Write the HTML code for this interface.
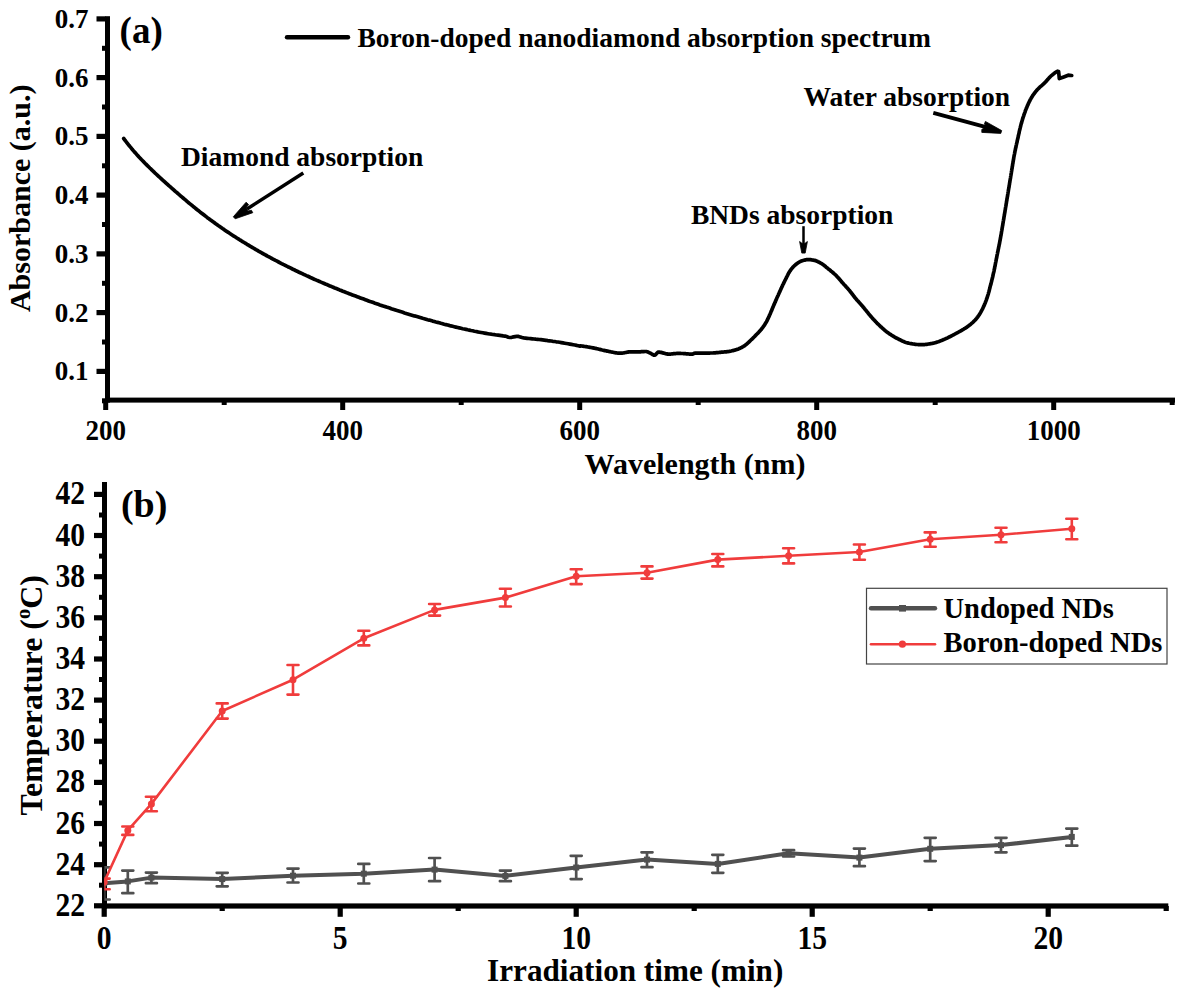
<!DOCTYPE html>
<html><head><meta charset="utf-8"><title>Figure</title>
<style>html,body{margin:0;padding:0;background:#fff;width:1183px;height:994px;overflow:hidden}svg{display:block}</style>
</head><body>
<svg width="1183" height="994" viewBox="0 0 1183 994">
<rect width="100%" height="100%" fill="#fff"/>
<g fill="#000">
<rect x="105" y="16.2" width="5" height="386.4"/>
<rect x="105" y="397.6" width="1070" height="5"/>
<rect x="96.5" y="368.8" width="9" height="5.2"/>
<rect x="96.5" y="310.0" width="9" height="5.2"/>
<rect x="96.5" y="251.3" width="9" height="5.2"/>
<rect x="96.5" y="192.5" width="9" height="5.2"/>
<rect x="96.5" y="133.8" width="9" height="5.2"/>
<rect x="96.5" y="75.0" width="9" height="5.2"/>
<rect x="96.5" y="16.3" width="9" height="5.2"/>
<rect x="102" y="398.3" width="4" height="5"/>
<rect x="102" y="339.5" width="4" height="5"/>
<rect x="102" y="280.8" width="4" height="5"/>
<rect x="102" y="222.0" width="4" height="5"/>
<rect x="102" y="163.3" width="4" height="5"/>
<rect x="102" y="104.5" width="4" height="5"/>
<rect x="102" y="45.8" width="4" height="5"/>
<rect x="103.2" y="400" width="5" height="10"/>
<rect x="340.2" y="400" width="5" height="10"/>
<rect x="577.2" y="400" width="5" height="10"/>
<rect x="814.2" y="400" width="5" height="10"/>
<rect x="1051.2" y="400" width="5" height="10"/>
<rect x="221.7" y="400" width="5" height="5"/>
<rect x="458.7" y="400" width="5" height="5"/>
<rect x="695.7" y="400" width="5" height="5"/>
<rect x="932.7" y="400" width="5" height="5"/>
<rect x="1169.7" y="400" width="5" height="5"/>
</g>
<polyline points="123.7,138.5 124.7,139.8 125.7,141.2 126.8,142.6 127.8,143.9 128.9,145.3 130.0,146.6 131.1,147.9 132.2,149.3 133.3,150.6 134.4,151.9 135.6,153.1 136.7,154.4 137.9,155.7 139.0,157.0 140.2,158.2 141.4,159.5 142.6,160.7 143.8,161.9 145.0,163.2 146.2,164.4 147.4,165.6 148.6,166.8 149.8,168.0 151.1,169.2 152.3,170.4 153.6,171.6 154.8,172.8 156.1,174.0 157.3,175.1 158.6,176.3 159.9,177.5 161.1,178.6 162.4,179.8 163.7,181.0 165.0,182.1 166.3,183.3 167.5,184.4 168.8,185.6 170.1,186.7 171.4,187.8 172.7,189.0 174.0,190.1 175.3,191.3 176.6,192.4 177.9,193.5 179.2,194.7 180.5,195.8 181.8,196.9 183.1,198.0 184.4,199.1 185.7,200.2 187.0,201.3 188.3,202.5 189.7,203.6 191.0,204.6 192.3,205.7 193.6,206.8 195.0,207.9 196.3,209.0 197.6,210.1 199.0,211.1 200.3,212.2 201.7,213.2 203.1,214.3 204.4,215.3 205.8,216.4 207.1,217.4 208.5,218.4 209.9,219.5 211.3,220.5 212.7,221.5 214.1,222.5 215.4,223.5 216.8,224.5 218.2,225.5 219.7,226.5 221.1,227.5 222.5,228.5 223.9,229.4 225.3,230.4 226.7,231.4 228.2,232.3 229.6,233.3 231.0,234.2 232.5,235.2 233.9,236.1 235.4,237.0 236.8,238.0 238.3,238.9 239.7,239.8 241.2,240.7 242.6,241.6 244.1,242.5 245.6,243.4 247.0,244.3 248.5,245.2 250.0,246.1 251.5,247.0 253.0,247.8 254.4,248.7 255.9,249.6 257.4,250.4 258.9,251.3 260.4,252.1 261.9,253.0 263.4,253.8 264.9,254.7 266.4,255.5 267.9,256.3 269.5,257.1 271.0,258.0 272.5,258.8 274.0,259.6 275.5,260.4 277.1,261.2 278.6,262.0 280.1,262.8 281.6,263.6 283.2,264.4 284.7,265.1 286.2,265.9 287.8,266.7 289.3,267.4 290.9,268.2 292.4,269.0 294.0,269.7 295.5,270.5 297.1,271.2 298.6,272.0 300.2,272.7 301.7,273.4 303.3,274.2 304.9,274.9 306.4,275.6 308.0,276.3 309.5,277.0 311.1,277.8 312.7,278.5 314.2,279.2 315.8,279.9 317.4,280.6 319.0,281.2 320.5,281.9 322.1,282.6 323.7,283.3 325.3,284.0 326.9,284.6 328.4,285.3 330.0,286.0 331.6,286.6 333.2,287.3 334.8,288.0 336.4,288.6 338.0,289.2 339.6,289.9 341.2,290.5 342.8,291.2 344.4,291.8 346.0,292.4 347.6,293.1 349.2,293.7 350.8,294.3 352.4,294.9 354.0,295.5 355.6,296.1 357.2,296.7 358.8,297.3 360.4,297.9 362.1,298.5 363.7,299.1 365.3,299.7 366.9,300.3 368.5,300.9 370.1,301.5 371.8,302.0 373.4,302.6 375.0,303.2 376.6,303.7 378.3,304.3 379.9,304.9 381.5,305.4 383.2,306.0 384.8,306.5 386.4,307.1 388.1,307.6 389.7,308.1 391.3,308.7 393.0,309.2 394.6,309.7 396.3,310.3 397.9,310.8 399.5,311.3 401.2,311.8 402.8,312.3 404.5,312.9 406.1,313.4 407.8,313.9 409.4,314.4 411.1,314.9 412.7,315.4 414.4,315.9 416.0,316.3 417.7,316.8 419.3,317.3 421.0,317.8 422.6,318.3 424.3,318.7 426.0,319.2 427.6,319.7 429.3,320.1 430.9,320.6 432.6,321.1 434.3,321.5 435.9,322.0 437.6,322.4 439.2,322.8 440.9,323.3 442.6,323.7 444.2,324.2 445.9,324.6 447.6,325.0 449.2,325.4 450.9,325.9 452.6,326.3 454.3,326.7 455.9,327.1 457.6,327.5 459.3,327.9 461.0,328.3 462.6,328.7 464.3,329.0 466.0,329.4 467.7,329.8 469.3,330.1 471.0,330.5 472.7,330.8 474.4,331.2 476.1,331.5 477.8,331.9 479.5,332.2 481.1,332.5 482.8,332.8 484.5,333.1 486.2,333.4 487.9,333.7 489.6,334.0 491.3,334.2 493.0,334.5 494.7,334.7 496.4,335.0 498.1,335.2 499.8,335.4 501.5,335.6 503.2,335.9 504.9,336.1 506.6,336.6 508.3,337.2 510.1,337.5 511.8,337.3 513.5,336.9 515.2,336.6 516.9,336.3 518.6,336.4 520.3,336.9 522.0,337.5 523.8,337.9 525.5,338.1 527.2,338.3 528.9,338.5 530.6,338.6 532.3,338.8 534.0,339.0 535.8,339.2 537.5,339.3 539.2,339.5 540.9,339.7 542.6,339.9 544.3,340.1 546.0,340.3 547.7,340.6 549.4,340.8 551.1,341.0 552.8,341.3 554.5,341.5 556.2,341.8 557.9,342.0 559.6,342.3 561.3,342.6 563.0,342.9 564.7,343.2 566.4,343.5 568.1,343.8 569.8,344.1 571.5,344.4 573.2,344.7 574.9,345.0 576.6,345.4 578.3,345.7 580.0,346.1 580.8,345.9 581.7,346.0 582.5,346.1 583.3,346.2 584.2,346.4 585.0,346.5 585.8,346.6 586.7,346.7 587.5,346.9 588.3,347.0 589.1,347.2 590.0,347.3 590.8,347.5 591.6,347.6 592.4,347.8 593.3,347.9 594.1,348.1 594.9,348.3 595.7,348.4 596.5,348.6 597.4,348.8 598.2,349.0 599.0,349.2 599.8,349.4 600.6,349.6 601.4,349.8 602.2,350.0 603.1,350.2 603.9,350.4 604.7,350.6 605.5,350.7 606.4,350.9 607.2,351.1 608.0,351.2 608.8,351.4 609.7,351.6 610.5,351.8 611.3,352.0 612.1,352.1 613.0,352.3 613.8,352.5 614.6,352.6 615.5,352.8 616.3,352.9 617.1,353.0 617.9,353.1 618.8,353.1 619.6,353.2 620.4,353.2 621.3,353.2 622.1,353.1 622.9,353.0 623.7,352.9 624.6,352.7 625.4,352.5 626.2,352.4 627.1,352.2 627.9,352.1 628.7,351.9 629.6,351.8 630.4,351.8 631.2,351.8 632.1,351.8 632.9,351.8 633.8,351.8 634.6,351.9 635.4,351.9 636.3,351.9 637.1,351.9 638.0,351.9 638.8,351.9 639.6,351.9 640.5,351.8 641.3,351.7 642.2,351.7 643.0,351.6 643.9,351.6 644.7,351.5 645.5,351.5 646.3,351.5 647.1,351.7 647.9,352.0 648.7,352.4 649.5,352.8 650.2,353.1 651.0,353.5 651.8,354.0 652.5,354.5 653.3,354.9 654.0,355.2 654.7,355.2 655.4,354.8 656.1,354.1 656.7,353.4 657.4,352.7 658.0,352.2 658.8,352.1 659.5,352.2 660.3,352.3 661.1,352.4 661.9,352.6 662.7,352.9 663.6,353.1 664.4,353.3 665.3,353.6 666.1,353.8 667.0,353.9 667.8,354.1 668.7,354.1 669.5,354.1 670.3,354.1 671.2,354.0 672.0,353.9 672.8,353.8 673.7,353.7 674.5,353.7 675.4,353.6 676.2,353.5 677.0,353.4 677.9,353.4 678.7,353.4 679.6,353.4 680.4,353.4 681.2,353.5 682.1,353.5 682.9,353.5 683.7,353.6 684.6,353.7 685.4,353.7 686.3,353.8 687.1,353.8 687.9,353.9 688.8,354.0 689.6,354.1 690.5,354.1 691.3,354.2 692.1,354.2 692.9,354.0 693.7,353.6 694.5,353.3 695.3,353.1 696.1,353.1 696.9,353.1 697.8,353.1 698.6,353.1 699.5,353.1 700.3,353.1 701.2,353.1 702.0,353.1 702.8,353.1 703.7,353.1 704.5,353.1 705.4,353.1 706.2,353.1 707.0,353.1 707.9,353.1 708.7,353.1 709.6,353.1 710.4,353.0 711.2,353.0 712.1,353.0 712.9,353.0 713.8,352.9 714.6,352.9 715.4,352.8 716.3,352.7 717.1,352.7 717.9,352.6 718.8,352.5 719.6,352.4 720.4,352.3 721.3,352.2 722.1,352.2 723.0,352.1 723.8,352.0 724.6,351.9 725.5,351.9 726.3,351.8 727.1,351.7 728.0,351.6 728.8,351.5 729.6,351.3 730.4,351.2 731.3,351.0 732.1,350.8 732.9,350.6 733.7,350.4 734.5,350.2 735.3,349.9 736.1,349.7 736.9,349.4 737.7,349.2 738.5,348.9 739.3,348.5 740.1,348.2 740.8,347.8 741.6,347.5 742.3,347.0 743.1,346.6 743.8,346.2 744.5,345.8 745.1,345.3 745.8,344.8 746.5,344.3 747.1,343.7 747.7,343.1 748.3,342.6 749.0,342.0 749.6,341.4 750.2,340.8 750.8,340.2 751.4,339.7 752.0,339.1 752.6,338.5 753.2,337.9 753.8,337.3 754.4,336.7 755.0,336.1 755.5,335.5 756.1,334.9 756.7,334.3 757.3,333.7 757.9,333.1 758.5,332.5 759.0,331.9 759.6,331.2 760.2,330.6 760.7,330.0 761.3,329.4 761.8,328.7 762.3,328.0 762.8,327.4 763.3,326.7 763.8,326.0 764.3,325.3 764.7,324.6 765.2,323.9 765.6,323.2 766.0,322.5 766.5,321.7 766.9,321.0 767.2,320.2 767.6,319.5 768.0,318.7 768.3,318.0 768.7,317.2 769.0,316.5 769.4,315.7 769.7,314.9 770.1,314.2 770.4,313.4 770.7,312.6 771.0,311.8 771.3,311.1 771.7,310.3 772.0,309.5 772.3,308.7 772.6,308.0 773.0,307.2 773.3,306.4 773.6,305.6 773.9,304.9 774.3,304.1 774.6,303.3 774.9,302.6 775.3,301.8 775.6,301.0 775.9,300.2 776.3,299.5 776.6,298.7 776.9,297.9 777.3,297.2 777.6,296.4 778.0,295.6 778.3,294.9 778.6,294.1 779.0,293.3 779.3,292.6 779.7,291.8 780.0,291.0 780.4,290.3 780.7,289.5 781.1,288.7 781.4,288.0 781.8,287.2 782.1,286.5 782.5,285.7 782.8,284.9 783.2,284.2 783.6,283.4 783.9,282.7 784.3,281.9 784.7,281.2 785.0,280.4 785.4,279.7 785.8,278.9 786.2,278.2 786.5,277.4 786.9,276.6 787.3,275.9 787.7,275.1 788.0,274.4 788.4,273.6 788.8,272.9 789.3,272.2 789.7,271.4 790.2,270.8 790.6,270.1 791.1,269.4 791.6,268.8 792.2,268.1 792.7,267.5 793.3,266.8 793.9,266.2 794.5,265.6 795.1,265.1 795.8,264.5 796.4,264.0 797.1,263.5 797.8,263.0 798.5,262.5 799.2,262.1 800.0,261.7 800.7,261.3 801.5,261.0 802.3,260.7 803.1,260.5 803.9,260.3 804.7,260.1 805.5,259.9 806.4,259.7 807.2,259.6 808.0,259.6 808.9,259.6 809.7,259.7 810.6,259.7 811.4,259.8 812.2,260.0 813.1,260.1 813.9,260.3 814.7,260.4 815.5,260.6 816.3,260.9 817.1,261.2 817.8,261.6 818.6,262.0 819.4,262.4 820.1,262.8 820.8,263.2 821.6,263.6 822.2,264.0 822.9,264.5 823.6,265.0 824.3,265.5 824.9,266.1 825.6,266.6 826.2,267.2 826.9,267.7 827.5,268.2 828.2,268.8 828.8,269.3 829.5,269.8 830.2,270.3 830.8,270.9 831.5,271.4 832.1,271.9 832.8,272.5 833.4,273.0 834.0,273.6 834.6,274.1 835.3,274.7 835.9,275.3 836.5,275.9 837.0,276.5 837.6,277.1 838.2,277.7 838.7,278.3 839.3,279.0 839.8,279.6 840.4,280.2 840.9,280.9 841.4,281.5 842.0,282.2 842.5,282.8 843.1,283.4 843.7,284.1 844.2,284.7 844.8,285.3 845.4,285.9 845.9,286.5 846.5,287.2 847.1,287.8 847.6,288.4 848.2,289.0 848.7,289.7 849.3,290.3 849.8,290.9 850.3,291.6 850.8,292.3 851.4,292.9 851.9,293.6 852.4,294.3 852.9,294.9 853.4,295.6 853.9,296.3 854.4,296.9 854.9,297.6 855.5,298.2 856.0,298.9 856.5,299.5 857.1,300.2 857.7,300.8 858.2,301.4 858.8,302.0 859.3,302.6 859.9,303.3 860.5,303.9 861.0,304.5 861.6,305.1 862.1,305.8 862.7,306.4 863.2,307.1 863.8,307.7 864.3,308.4 864.8,309.0 865.3,309.7 865.9,310.3 866.4,311.0 866.9,311.6 867.5,312.3 868.0,312.9 868.5,313.6 869.0,314.2 869.6,314.9 870.1,315.5 870.7,316.2 871.2,316.8 871.7,317.4 872.3,318.1 872.9,318.7 873.4,319.3 874.0,319.9 874.6,320.5 875.2,321.1 875.7,321.7 876.3,322.3 876.9,323.0 877.5,323.6 878.1,324.2 878.7,324.7 879.3,325.3 879.9,325.9 880.5,326.5 881.1,327.1 881.8,327.6 882.4,328.2 883.0,328.8 883.7,329.3 884.3,329.8 884.9,330.4 885.6,330.9 886.2,331.4 886.9,331.9 887.6,332.4 888.3,332.9 888.9,333.4 889.6,333.9 890.3,334.3 891.0,334.8 891.7,335.3 892.5,335.7 893.2,336.2 893.9,336.6 894.6,337.1 895.3,337.5 896.1,337.9 896.8,338.3 897.6,338.6 898.3,339.0 899.1,339.4 899.8,339.8 900.6,340.1 901.3,340.5 902.1,340.9 902.9,341.2 903.7,341.6 904.5,341.9 905.2,342.2 906.0,342.5 906.8,342.7 907.6,342.9 908.4,343.1 909.2,343.3 910.1,343.5 910.9,343.6 911.7,343.7 912.5,343.9 913.4,344.0 914.2,344.1 915.0,344.3 915.9,344.4 916.7,344.5 917.6,344.5 918.4,344.6 919.2,344.7 920.1,344.7 920.9,344.7 921.7,344.7 922.6,344.7 923.4,344.6 924.3,344.6 925.1,344.5 925.9,344.4 926.8,344.3 927.6,344.2 928.5,344.0 929.3,343.9 930.1,343.8 930.9,343.6 931.8,343.5 932.6,343.3 933.4,343.2 934.2,343.0 935.0,342.8 935.8,342.6 936.6,342.3 937.4,342.0 938.2,341.8 939.0,341.5 939.8,341.2 940.6,340.8 941.4,340.5 942.1,340.2 942.9,339.9 943.7,339.5 944.5,339.2 945.2,338.9 946.0,338.5 946.8,338.2 947.5,337.9 948.3,337.5 949.0,337.1 949.8,336.8 950.5,336.4 951.3,336.0 952.0,335.6 952.8,335.2 953.5,334.8 954.3,334.4 955.0,334.0 955.7,333.6 956.5,333.2 957.2,332.8 958.0,332.4 958.7,332.0 959.4,331.6 960.2,331.2 960.9,330.8 961.6,330.4 962.4,329.9 963.1,329.5 963.8,329.1 964.5,328.6 965.3,328.2 966.0,327.7 966.7,327.3 967.3,326.8 968.0,326.3 968.7,325.8 969.3,325.3 970.0,324.8 970.6,324.3 971.3,323.7 971.9,323.2 972.6,322.6 973.2,322.0 973.8,321.4 974.4,320.8 975.0,320.2 975.6,319.6 976.1,319.0 976.6,318.4 977.1,317.7 977.6,317.1 978.1,316.4 978.6,315.7 979.1,315.0 979.5,314.3 980.0,313.5 980.4,312.8 980.8,312.1 981.2,311.3 981.6,310.6 982.0,309.8 982.4,309.1 982.8,308.3 983.1,307.6 983.5,306.8 983.8,306.1 984.2,305.3 984.5,304.5 984.8,303.8 985.2,303.0 985.5,302.2 985.8,301.4 986.1,300.6 986.4,299.8 986.6,299.0 986.9,298.2 987.2,297.5 987.4,296.7 987.7,295.9 987.9,295.1 988.2,294.3 988.4,293.5 988.6,292.6 988.9,291.8 989.1,291.0 989.3,290.2 989.5,289.4 989.7,288.6 989.9,287.8 990.1,286.9 990.3,286.1 990.5,285.3 990.8,284.5 991.0,283.7 991.2,282.9 991.4,282.1 991.6,281.3 991.8,280.4 992.0,279.6 992.2,278.8 992.4,278.0 992.6,277.2 992.8,276.4 993.0,275.5 993.1,274.7 993.3,273.9 993.5,273.1 993.7,272.3 993.9,271.5 994.1,270.6 994.2,269.8 994.4,269.0 994.6,268.2 994.7,267.3 994.9,266.5 995.1,265.7 995.2,264.9 995.4,264.1 995.5,263.2 995.7,262.4 995.9,261.6 996.0,260.8 996.2,259.9 996.3,259.1 996.5,258.3 996.7,257.5 996.8,256.6 997.0,255.8 997.1,255.0 997.3,254.2 997.5,253.3 997.6,252.5 997.8,251.7 998.0,250.9 998.1,250.1 998.3,249.2 998.5,248.4 998.6,247.6 998.8,246.8 999.0,245.9 999.1,245.1 999.3,244.3 999.5,243.5 999.6,242.6 999.8,241.8 999.9,241.0 1000.1,240.2 1000.2,239.4 1000.4,238.5 1000.5,237.7 1000.7,236.9 1000.8,236.0 1001.0,235.2 1001.1,234.4 1001.3,233.6 1001.4,232.7 1001.5,231.9 1001.7,231.1 1001.8,230.3 1002.0,229.4 1002.1,228.6 1002.2,227.8 1002.4,226.9 1002.5,226.1 1002.7,225.3 1002.8,224.5 1002.9,223.6 1003.1,222.8 1003.2,222.0 1003.3,221.2 1003.5,220.3 1003.6,219.5 1003.8,218.7 1003.9,217.8 1004.0,217.0 1004.2,216.2 1004.3,215.4 1004.4,214.5 1004.6,213.7 1004.7,212.9 1004.9,212.0 1005.0,211.2 1005.1,210.4 1005.3,209.6 1005.4,208.7 1005.5,207.9 1005.7,207.1 1005.8,206.3 1006.0,205.4 1006.1,204.6 1006.2,203.8 1006.4,202.9 1006.5,202.1 1006.6,201.3 1006.8,200.5 1006.9,199.6 1007.0,198.8 1007.2,198.0 1007.3,197.1 1007.5,196.3 1007.6,195.5 1007.7,194.7 1007.9,193.8 1008.0,193.0 1008.1,192.2 1008.3,191.3 1008.4,190.5 1008.5,189.7 1008.7,188.9 1008.8,188.0 1009.0,187.2 1009.1,186.4 1009.2,185.6 1009.4,184.7 1009.5,183.9 1009.6,183.1 1009.8,182.2 1009.9,181.4 1010.0,180.6 1010.2,179.8 1010.3,178.9 1010.5,178.1 1010.6,177.3 1010.7,176.4 1010.9,175.6 1011.0,174.8 1011.1,174.0 1011.3,173.1 1011.4,172.3 1011.5,171.5 1011.7,170.6 1011.8,169.8 1011.9,169.0 1012.1,168.2 1012.2,167.3 1012.3,166.5 1012.5,165.7 1012.6,164.8 1012.7,164.0 1012.9,163.2 1013.0,162.4 1013.1,161.5 1013.3,160.7 1013.4,159.9 1013.6,159.0 1013.7,158.2 1013.8,157.4 1014.0,156.6 1014.1,155.7 1014.3,154.9 1014.5,154.1 1014.6,153.3 1014.8,152.5 1014.9,151.6 1015.1,150.8 1015.3,150.0 1015.4,149.2 1015.6,148.3 1015.8,147.5 1016.0,146.7 1016.1,145.9 1016.3,145.1 1016.5,144.2 1016.7,143.4 1016.9,142.6 1017.1,141.8 1017.2,141.0 1017.4,140.1 1017.6,139.3 1017.8,138.5 1018.0,137.7 1018.2,136.9 1018.3,136.0 1018.5,135.2 1018.7,134.4 1018.9,133.6 1019.1,132.8 1019.2,131.9 1019.4,131.1 1019.6,130.3 1019.8,129.5 1020.0,128.7 1020.2,127.9 1020.4,127.0 1020.6,126.2 1020.8,125.4 1021.0,124.6 1021.2,123.8 1021.5,123.0 1021.7,122.2 1021.9,121.4 1022.2,120.6 1022.4,119.8 1022.6,119.0 1022.9,118.2 1023.1,117.4 1023.4,116.6 1023.7,115.8 1023.9,115.0 1024.2,114.2 1024.5,113.4 1024.8,112.6 1025.1,111.8 1025.3,111.0 1025.6,110.2 1025.9,109.5 1026.2,108.7 1026.6,107.9 1026.9,107.1 1027.2,106.3 1027.5,105.5 1027.9,104.8 1028.2,104.0 1028.6,103.2 1028.9,102.5 1029.3,101.7 1029.7,101.0 1030.0,100.2 1030.4,99.5 1030.8,98.8 1031.2,98.0 1031.7,97.3 1032.1,96.6 1032.6,95.9 1033.0,95.2 1033.5,94.5 1034.0,93.8 1034.5,93.1 1035.0,92.5 1035.5,91.8 1036.1,91.1 1036.6,90.5 1037.1,89.9 1037.7,89.3 1038.3,88.7 1038.9,88.1 1039.5,87.5 1040.1,86.9 1040.7,86.4 1041.4,85.8 1042.0,85.3 1042.7,84.7 1043.3,84.2 1043.9,83.6 1044.5,83.0 1045.1,82.4 1045.7,81.8 1046.2,81.2 1046.8,80.5 1047.4,79.9 1047.9,79.3 1048.5,78.6 1049.0,78.0 1049.6,77.4 1050.2,76.8 1050.8,76.2 1051.4,75.7 1052.1,75.1 1052.7,74.6 1053.4,74.1 1054.0,73.6 1054.7,73.1 1055.4,72.6 1056.1,72.1 1056.8,71.7 1057.5,71.2 1058.6,71.5 1059.0,75.2 1059.3,78.6 1063.1,77.2 1068.2,75.2 1071.7,75.5" fill="none" stroke="#000" stroke-width="3.7" stroke-linejoin="round" stroke-linecap="round"/>
<line x1="287" y1="37.2" x2="348" y2="37.2" stroke="#000" stroke-width="4.4" stroke-linecap="round"/>
<line x1="303.3" y1="173.1" x2="247" y2="209" stroke="#000" stroke-width="3.5"/>
<polygon points="233.3,216.8 246.1,202.2 248.6,204.6 246.5,207.2 247.6,211.1 251.4,210.2 252.8,212.7 235.2,218.8" fill="#000" stroke="#000" stroke-width="0.8" stroke-linejoin="round"/>
<line x1="803.5" y1="226.2" x2="803.5" y2="245" stroke="#000" stroke-width="2.5"/>
<polygon points="799.6,241.5 802.3,243.6 804.7,243.6 807.4,241.5 805.2,253.1 801.8,253.1" fill="#000" stroke="#000" stroke-width="0.8" stroke-linejoin="round"/>
<line x1="933.3" y1="112.9" x2="987" y2="127.4" stroke="#000" stroke-width="3.8"/>
<polygon points="985.4,121.4 1001.7,130.6 1000.8,133.4 981.8,132.4 981.8,129.4 986.8,126.6 984.4,124" fill="#000" stroke="#000" stroke-width="0.8" stroke-linejoin="round"/>
<g style='font-family:"Liberation Serif", serif;font-weight:bold' fill="#000">
<text transform="translate(88.5,380.4) scale(1,1.05)" font-size="27" text-anchor="end">0.1</text>
<text transform="translate(88.5,321.6) scale(1,1.05)" font-size="27" text-anchor="end">0.2</text>
<text transform="translate(88.5,262.9) scale(1,1.05)" font-size="27" text-anchor="end">0.3</text>
<text transform="translate(88.5,204.1) scale(1,1.05)" font-size="27" text-anchor="end">0.4</text>
<text transform="translate(88.5,145.4) scale(1,1.05)" font-size="27" text-anchor="end">0.5</text>
<text transform="translate(88.5,86.6) scale(1,1.05)" font-size="27" text-anchor="end">0.6</text>
<text transform="translate(88.5,27.9) scale(1,1.05)" font-size="27" text-anchor="end">0.7</text>
<text transform="translate(105.7,440) scale(1,1.055)" font-size="27" text-anchor="middle">200</text>
<text transform="translate(342.7,440) scale(1,1.055)" font-size="27" text-anchor="middle">400</text>
<text transform="translate(579.7,440) scale(1,1.055)" font-size="27" text-anchor="middle">600</text>
<text transform="translate(816.7,440) scale(1,1.055)" font-size="27" text-anchor="middle">800</text>
<text transform="translate(1053.7,440) scale(1,1.055)" font-size="27" text-anchor="middle">1000</text>
<text x="695" y="473.8" font-size="30" text-anchor="middle">Wavelength (nm)</text>
<text transform="translate(30.2,198.3) rotate(-90)" font-size="30" text-anchor="middle">Absorbance (a.u.)</text>
<text x="119.6" y="43" font-size="37">(a)</text>
<text x="357.5" y="46.5" font-size="27.5">Boron-doped nanodiamond absorption spectrum</text>
<text x="181" y="165.8" font-size="27.5">Diamond absorption</text>
<text x="690.9" y="223.7" font-size="27.5">BNDs absorption</text>
<text x="803.6" y="105.9" font-size="27.5">Water absorption</text>
</g>
<g fill="#000">
<rect x="102" y="482" width="5" height="426.6"/>
<rect x="102" y="903.4" width="1066.3" height="5.2"/>
<rect x="94" y="903.2" width="9" height="5.2"/>
<rect x="94" y="862.1" width="9" height="5.2"/>
<rect x="94" y="820.9" width="9" height="5.2"/>
<rect x="94" y="779.8" width="9" height="5.2"/>
<rect x="94" y="738.6" width="9" height="5.2"/>
<rect x="94" y="697.5" width="9" height="5.2"/>
<rect x="94" y="656.4" width="9" height="5.2"/>
<rect x="94" y="615.2" width="9" height="5.2"/>
<rect x="94" y="574.1" width="9" height="5.2"/>
<rect x="94" y="532.9" width="9" height="5.2"/>
<rect x="94" y="491.8" width="9" height="5.2"/>
<rect x="99" y="882.7" width="4" height="5"/>
<rect x="99" y="841.6" width="4" height="5"/>
<rect x="99" y="800.4" width="4" height="5"/>
<rect x="99" y="759.3" width="4" height="5"/>
<rect x="99" y="718.2" width="4" height="5"/>
<rect x="99" y="677.0" width="4" height="5"/>
<rect x="99" y="635.9" width="4" height="5"/>
<rect x="99" y="594.8" width="4" height="5"/>
<rect x="99" y="553.6" width="4" height="5"/>
<rect x="99" y="512.5" width="4" height="5"/>
<rect x="101.6" y="906" width="5.2" height="10.8"/>
<rect x="337.6" y="906" width="5.2" height="10.8"/>
<rect x="573.6" y="906" width="5.2" height="10.8"/>
<rect x="809.6" y="906" width="5.2" height="10.8"/>
<rect x="1045.6" y="906" width="5.2" height="10.8"/>
<rect x="219.6" y="906" width="5.2" height="5"/>
<rect x="455.6" y="906" width="5.2" height="5"/>
<rect x="691.6" y="906" width="5.2" height="5"/>
<rect x="927.6" y="906" width="5.2" height="5"/>
<rect x="1163.6" y="906" width="5.2" height="5"/>
</g>
<defs><clipPath id="cb"><rect x="104.4" y="470" width="1070" height="436"/></clipPath></defs>
<g clip-path="url(#cb)">
<polyline points="104.2,883.2 127.8,881.4 151.4,877.6 222.2,879.1 293.0,875.7 363.8,873.7 434.6,869.6 505.4,875.9 576.2,867.5 647.0,859.6 717.8,863.9 788.6,853.3 859.4,857.6 930.2,848.8 1001.0,845.1 1071.8,836.9" fill="none" stroke="#505050" stroke-width="4.0" stroke-linejoin="round"/><path d="M104.2,867.4V899.5M98.7,867.4H109.7M98.7,899.5H109.7" stroke="#505050" stroke-width="2.7" stroke-linecap="round" fill="none"/><rect x="101.2" y="880.2" width="6" height="6" fill="#505050"/><path d="M127.8,870.6V893.2M122.3,870.6H133.3M122.3,893.2H133.3" stroke="#505050" stroke-width="2.7" stroke-linecap="round" fill="none"/><rect x="124.8" y="878.4" width="6" height="6" fill="#505050"/><path d="M151.4,872.6V883.2M145.9,872.6H156.9M145.9,883.2H156.9" stroke="#505050" stroke-width="2.7" stroke-linecap="round" fill="none"/><rect x="148.4" y="874.6" width="6" height="6" fill="#505050"/><path d="M222.2,872.8V886.3M216.7,872.8H227.7M216.7,886.3H227.7" stroke="#505050" stroke-width="2.7" stroke-linecap="round" fill="none"/><rect x="219.2" y="876.1" width="6" height="6" fill="#505050"/><path d="M293.0,868.6V882.5M287.5,868.6H298.5M287.5,882.5H298.5" stroke="#505050" stroke-width="2.7" stroke-linecap="round" fill="none"/><rect x="290.0" y="872.7" width="6" height="6" fill="#505050"/><path d="M363.8,863.9V883.5M358.3,863.9H369.3M358.3,883.5H369.3" stroke="#505050" stroke-width="2.7" stroke-linecap="round" fill="none"/><rect x="360.8" y="870.7" width="6" height="6" fill="#505050"/><path d="M434.6,858.0V881.2M429.1,858.0H440.1M429.1,881.2H440.1" stroke="#505050" stroke-width="2.7" stroke-linecap="round" fill="none"/><rect x="431.6" y="866.6" width="6" height="6" fill="#505050"/><path d="M505.4,870.6V881.2M499.9,870.6H510.9M499.9,881.2H510.9" stroke="#505050" stroke-width="2.7" stroke-linecap="round" fill="none"/><rect x="502.4" y="872.9" width="6" height="6" fill="#505050"/><path d="M576.2,855.8V879.1M570.7,855.8H581.7M570.7,879.1H581.7" stroke="#505050" stroke-width="2.7" stroke-linecap="round" fill="none"/><rect x="573.2" y="864.5" width="6" height="6" fill="#505050"/><path d="M647.0,852.3V867.2M641.5,852.3H652.5M641.5,867.2H652.5" stroke="#505050" stroke-width="2.7" stroke-linecap="round" fill="none"/><rect x="644.0" y="856.6" width="6" height="6" fill="#505050"/><path d="M717.8,854.8V872.8M712.3,854.8H723.3M712.3,872.8H723.3" stroke="#505050" stroke-width="2.7" stroke-linecap="round" fill="none"/><rect x="714.8" y="860.9" width="6" height="6" fill="#505050"/><path d="M788.6,850.2V856.5M783.1,850.2H794.1M783.1,856.5H794.1" stroke="#505050" stroke-width="2.7" stroke-linecap="round" fill="none"/><rect x="785.6" y="850.3" width="6" height="6" fill="#505050"/><path d="M859.4,848.6V866.2M853.9,848.6H864.9M853.9,866.2H864.9" stroke="#505050" stroke-width="2.7" stroke-linecap="round" fill="none"/><rect x="856.4" y="854.6" width="6" height="6" fill="#505050"/><path d="M930.2,837.8V861.1M924.7,837.8H935.7M924.7,861.1H935.7" stroke="#505050" stroke-width="2.7" stroke-linecap="round" fill="none"/><rect x="927.2" y="845.8" width="6" height="6" fill="#505050"/><path d="M1001.0,837.8V852.3M995.5,837.8H1006.5M995.5,852.3H1006.5" stroke="#505050" stroke-width="2.7" stroke-linecap="round" fill="none"/><rect x="998.0" y="842.1" width="6" height="6" fill="#505050"/><path d="M1071.8,828.6V845.7M1066.3,828.6H1077.3M1066.3,845.7H1077.3" stroke="#505050" stroke-width="2.7" stroke-linecap="round" fill="none"/><rect x="1068.8" y="833.9" width="6" height="6" fill="#505050"/>
<polyline points="104.2,882.0 127.8,830.4 151.4,803.9 222.2,711.0 293.0,679.7 363.8,638.3 434.6,609.9 505.4,597.6 576.2,576.3 647.0,572.8 717.8,559.6 788.6,555.8 859.4,552.0 930.2,539.3 1001.0,534.7 1071.8,528.8" fill="none" stroke="#f03c3c" stroke-width="2.6" stroke-linejoin="round"/><path d="M104.2,878.6V889.3M98.7,878.6H109.7M98.7,889.3H109.7" stroke="#f03c3c" stroke-width="2.6" stroke-linecap="round" fill="none"/><circle cx="104.2" cy="882.0" r="3.5" fill="#f03c3c"/><path d="M127.8,826.5V834.9M122.3,826.5H133.3M122.3,834.9H133.3" stroke="#f03c3c" stroke-width="2.6" stroke-linecap="round" fill="none"/><circle cx="127.8" cy="830.4" r="3.5" fill="#f03c3c"/><path d="M151.4,796.7V811.2M145.9,796.7H156.9M145.9,811.2H156.9" stroke="#f03c3c" stroke-width="2.6" stroke-linecap="round" fill="none"/><circle cx="151.4" cy="803.9" r="3.5" fill="#f03c3c"/><path d="M222.2,703.4V718.6M216.7,703.4H227.7M216.7,718.6H227.7" stroke="#f03c3c" stroke-width="2.6" stroke-linecap="round" fill="none"/><circle cx="222.2" cy="711.0" r="3.5" fill="#f03c3c"/><path d="M293.0,665.0V694.6M287.5,665.0H298.5M287.5,694.6H298.5" stroke="#f03c3c" stroke-width="2.6" stroke-linecap="round" fill="none"/><circle cx="293.0" cy="679.7" r="3.5" fill="#f03c3c"/><path d="M363.8,630.7V645.4M358.3,630.7H369.3M358.3,645.4H369.3" stroke="#f03c3c" stroke-width="2.6" stroke-linecap="round" fill="none"/><circle cx="363.8" cy="638.3" r="3.5" fill="#f03c3c"/><path d="M434.6,604.0V615.6M429.1,604.0H440.1M429.1,615.6H440.1" stroke="#f03c3c" stroke-width="2.6" stroke-linecap="round" fill="none"/><circle cx="434.6" cy="609.9" r="3.5" fill="#f03c3c"/><path d="M505.4,588.7V606.5M499.9,588.7H510.9M499.9,606.5H510.9" stroke="#f03c3c" stroke-width="2.6" stroke-linecap="round" fill="none"/><circle cx="505.4" cy="597.6" r="3.5" fill="#f03c3c"/><path d="M576.2,569.2V584.1M570.7,569.2H581.7M570.7,584.1H581.7" stroke="#f03c3c" stroke-width="2.6" stroke-linecap="round" fill="none"/><circle cx="576.2" cy="576.3" r="3.5" fill="#f03c3c"/><path d="M647.0,566.4V578.6M641.5,566.4H652.5M641.5,578.6H652.5" stroke="#f03c3c" stroke-width="2.6" stroke-linecap="round" fill="none"/><circle cx="647.0" cy="572.8" r="3.5" fill="#f03c3c"/><path d="M717.8,554.0V566.4M712.3,554.0H723.3M712.3,566.4H723.3" stroke="#f03c3c" stroke-width="2.6" stroke-linecap="round" fill="none"/><circle cx="717.8" cy="559.6" r="3.5" fill="#f03c3c"/><path d="M788.6,548.2V563.4M783.1,548.2H794.1M783.1,563.4H794.1" stroke="#f03c3c" stroke-width="2.6" stroke-linecap="round" fill="none"/><circle cx="788.6" cy="555.8" r="3.5" fill="#f03c3c"/><path d="M859.4,544.5V559.8M853.9,544.5H864.9M853.9,559.8H864.9" stroke="#f03c3c" stroke-width="2.6" stroke-linecap="round" fill="none"/><circle cx="859.4" cy="552.0" r="3.5" fill="#f03c3c"/><path d="M930.2,532.4V546.8M924.7,532.4H935.7M924.7,546.8H935.7" stroke="#f03c3c" stroke-width="2.6" stroke-linecap="round" fill="none"/><circle cx="930.2" cy="539.3" r="3.5" fill="#f03c3c"/><path d="M1001.0,527.8V542.2M995.5,527.8H1006.5M995.5,542.2H1006.5" stroke="#f03c3c" stroke-width="2.6" stroke-linecap="round" fill="none"/><circle cx="1001.0" cy="534.7" r="3.5" fill="#f03c3c"/><path d="M1071.8,518.7V539.3M1066.3,518.7H1077.3M1066.3,539.3H1077.3" stroke="#f03c3c" stroke-width="2.6" stroke-linecap="round" fill="none"/><circle cx="1071.8" cy="528.8" r="3.5" fill="#f03c3c"/>
</g>
<rect x="866.5" y="588.3" width="300.5" height="75.7" fill="none" stroke="#444" stroke-width="1.2"/>
<line x1="871" y1="608.3" x2="935" y2="608.3" stroke="#505050" stroke-width="4.4" stroke-linecap="round"/>
<rect x="899" y="605" width="7" height="6.6" fill="#505050"/>
<line x1="871" y1="644.2" x2="935" y2="644.2" stroke="#f03c3c" stroke-width="2.6" stroke-linecap="round"/>
<circle cx="902.4" cy="644.2" r="3.6" fill="#f03c3c"/>
<g style='font-family:"Liberation Serif", serif;font-weight:bold' fill="#000">
<text transform="translate(85,915.8) scale(1,1.13)" font-size="29.6" text-anchor="end">22</text>
<text transform="translate(85,874.7) scale(1,1.13)" font-size="29.6" text-anchor="end">24</text>
<text transform="translate(85,833.5) scale(1,1.13)" font-size="29.6" text-anchor="end">26</text>
<text transform="translate(85,792.4) scale(1,1.13)" font-size="29.6" text-anchor="end">28</text>
<text transform="translate(85,751.2) scale(1,1.13)" font-size="29.6" text-anchor="end">30</text>
<text transform="translate(85,710.1) scale(1,1.13)" font-size="29.6" text-anchor="end">32</text>
<text transform="translate(85,669.0) scale(1,1.13)" font-size="29.6" text-anchor="end">34</text>
<text transform="translate(85,627.8) scale(1,1.13)" font-size="29.6" text-anchor="end">36</text>
<text transform="translate(85,586.7) scale(1,1.13)" font-size="29.6" text-anchor="end">38</text>
<text transform="translate(85,545.5) scale(1,1.13)" font-size="29.6" text-anchor="end">40</text>
<text transform="translate(85,504.4) scale(1,1.13)" font-size="29.6" text-anchor="end">42</text>
<text transform="translate(104.2,948.8) scale(1,1.13)" font-size="29.6" text-anchor="middle">0</text>
<text transform="translate(340.2,948.8) scale(1,1.13)" font-size="29.6" text-anchor="middle">5</text>
<text transform="translate(576.2,948.8) scale(1,1.13)" font-size="29.6" text-anchor="middle">10</text>
<text transform="translate(812.2,948.8) scale(1,1.13)" font-size="29.6" text-anchor="middle">15</text>
<text transform="translate(1048.2,948.8) scale(1,1.13)" font-size="29.6" text-anchor="middle">20</text>
<text x="635.2" y="981.3" font-size="31.2" text-anchor="middle">Irradiation time (min)</text>
<text transform="translate(42,695.2) rotate(-90)" font-size="32" text-anchor="middle">Temperature (<tspan font-size="20.5" dy="-12">o</tspan><tspan dy="12">C)</tspan></text>
<text x="120.9" y="516.7" font-size="38">(b)</text>
<text x="943.5" y="617.8" font-size="28.5">Undoped NDs</text>
<text x="943.5" y="652.4" font-size="28.5">Boron-doped NDs</text>
</g>
</svg>
</body></html>
